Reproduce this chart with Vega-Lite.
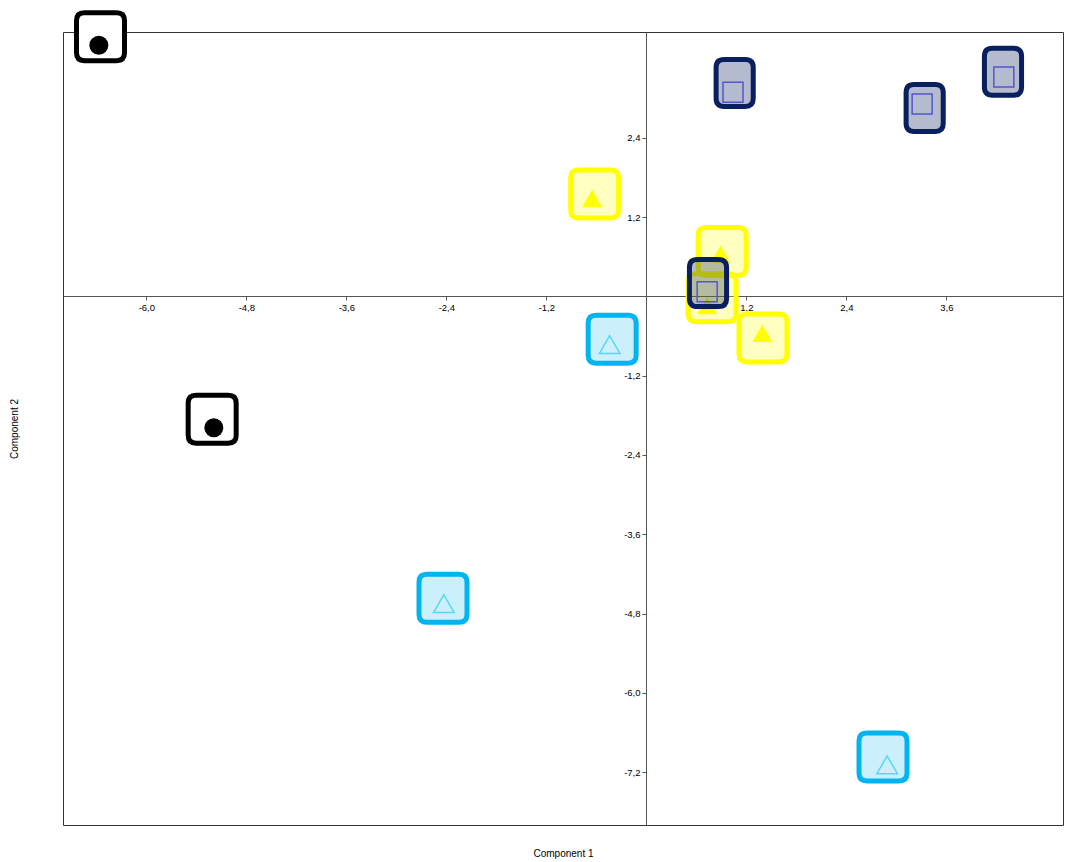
{
  "$schema": "https://vega.github.io/schema/vega-lite/v6.json",
  "width": 1000,
  "height": 793,
  "autosize": {"type": "none"},
  "padding": {"left": 63, "top": 32, "right": 3, "bottom": 37},
  "background": "white",
  "config": {
    "view": {"stroke": "#333333", "strokeWidth": 1},
    "font": "Liberation Sans",
    "axis": {"labelFont": "Liberation Sans", "titleFont": "Liberation Sans", "grid": false}
  },
  "data": {
    "values": [
      {"group": "black", "x": -6.57, "y": 3.80, "boxX": -6.55, "boxY": 3.93},
      {"group": "black", "x": -5.19, "y": -1.99, "boxX": -5.21, "boxY": -1.86},
      {"group": "cyan", "x": -0.44, "y": -0.73, "boxX": -0.41, "boxY": -0.65},
      {"group": "cyan", "x": -2.43, "y": -4.65, "boxX": -2.44, "boxY": -4.57},
      {"group": "cyan", "x": 2.89, "y": -7.09, "boxX": 2.84, "boxY": -6.97},
      {"group": "yellow", "x": -0.65, "y": 1.48, "boxX": -0.62, "boxY": 1.55},
      {"group": "yellow", "x": 0.89, "y": 0.64, "boxX": 0.91, "boxY": 0.68},
      {"group": "yellow", "x": 0.73, "y": -0.14, "boxX": 0.79, "boxY": -0.02},
      {"group": "yellow", "x": 1.39, "y": -0.56, "boxX": 1.40, "boxY": -0.63},
      {"group": "navy", "x": 1.04, "y": 3.09, "boxX": 1.06, "boxY": 3.23},
      {"group": "navy", "x": 3.31, "y": 2.91, "boxX": 3.34, "boxY": 2.85},
      {"group": "navy", "x": 4.29, "y": 3.32, "boxX": 4.28, "boxY": 3.40},
      {"group": "navy", "x": 0.73, "y": 0.07, "boxX": 0.74, "boxY": 0.20}
    ]
  },
  "resolve": {"axis": {"x": "independent", "y": "independent"}},
  "layer": [
    {
      "transform": [{"filter": "datum.group === 'black'"}],
      "mark": {"type": "point", "filled": true, "opacity": 1, "shape": "M-0.67,-1L0.67,-1Q1,-1,1,-0.67L1,0.67Q1,1,0.67,1L-0.67,1Q-1,1,-1,0.67L-1,-0.67Q-1,-1,-0.67,-1Z", "size": 2304, "fill": "#ffffff", "stroke": "#000000", "strokeWidth": 5},
      "encoding": {
        "x": {"field": "boxX", "type": "quantitative", "scale": {"domain": [-7, 5], "nice": false, "zero": false},
          "axis": {"orient": "bottom", "offset": -529, "values": [-6, -4.8, -3.6, -2.4, -1.2, 1.2, 2.4, 3.6], "labelExpr": "replace(replace(format(datum.value, '.1f'), '.', ','), '\u2212', '-')", "title": null, "domainColor": "#555555", "tickColor": "#555555", "tickSize": 4, "labelFontSize": 9.5, "labelColor": "#000000", "labelPadding": 2, "labelFlush": false}},
        "y": {"field": "boxY", "type": "quantitative", "scale": {"domain": [-8, 4], "nice": false, "zero": false},
          "axis": {"orient": "left", "offset": -583, "values": [2.4, 1.2, -1.2, -2.4, -3.6, -4.8, -6, -7.2], "labelExpr": "replace(replace(format(datum.value, '.1f'), '.', ','), '\u2212', '-')", "title": null, "domainColor": "#555555", "tickColor": "#555555", "tickSize": 4, "labelFontSize": 9.5, "labelColor": "#000000", "labelPadding": 2, "labelFlush": false}}
      }
    },
    {
      "transform": [{"filter": "datum.group === 'black'"}],
      "mark": {"type": "point", "filled": true, "opacity": 1, "shape": "circle", "size": 361, "fill": "#000000", "strokeWidth": 0},
      "encoding": {
        "x": {"field": "x", "type": "quantitative", "axis": {"orient": "bottom", "title": "Component 1", "domain": false, "ticks": false, "labels": false, "titlePadding": 23, "titleFontSize": 10, "titleFontWeight": "normal", "titleColor": "#000000"}},
        "y": {"field": "y", "type": "quantitative", "axis": {"orient": "left", "title": "Component 2", "domain": false, "ticks": false, "labels": false, "titlePadding": 44, "titleFontSize": 10, "titleFontWeight": "normal", "titleColor": "#000000"}}
      }
    },
    {
      "transform": [{"filter": "datum.group === 'cyan'"}],
      "mark": {"type": "point", "filled": true, "opacity": 1, "shape": "M-0.67,-1L0.67,-1Q1,-1,1,-0.67L1,0.67Q1,1,0.67,1L-0.67,1Q-1,1,-1,0.67L-1,-0.67Q-1,-1,-0.67,-1Z", "size": 2304, "fill": "rgba(0,176,240,0.2)", "stroke": "#00b4f0", "strokeWidth": 5},
      "encoding": {
        "x": {"field": "boxX", "type": "quantitative", "axis": null},
        "y": {"field": "boxY", "type": "quantitative", "axis": null}
      }
    },
    {
      "transform": [{"filter": "datum.group === 'cyan'"}],
      "mark": {"type": "point", "filled": false, "opacity": 1, "shape": "triangle-up", "size": 420, "fill": "transparent", "stroke": "#55d8f2", "strokeWidth": 1.5},
      "encoding": {
        "x": {"field": "x", "type": "quantitative", "axis": null},
        "y": {"field": "y", "type": "quantitative", "axis": null}
      }
    },
    {
      "transform": [{"filter": "datum.group === 'yellow'"}],
      "mark": {"type": "point", "filled": true, "opacity": 1, "shape": "M-0.67,-1L0.67,-1Q1,-1,1,-0.67L1,0.67Q1,1,0.67,1L-0.67,1Q-1,1,-1,0.67L-1,-0.67Q-1,-1,-0.67,-1Z", "size": 2304, "fill": "rgba(255,255,0,0.25)", "stroke": "#ffff00", "strokeWidth": 5},
      "encoding": {
        "x": {"field": "boxX", "type": "quantitative", "axis": null},
        "y": {"field": "boxY", "type": "quantitative", "axis": null}
      }
    },
    {
      "transform": [{"filter": "datum.group === 'yellow'"}],
      "mark": {"type": "point", "filled": true, "opacity": 1, "shape": "triangle-up", "size": 400, "fill": "#ffff00", "strokeWidth": 0},
      "encoding": {
        "x": {"field": "x", "type": "quantitative", "axis": null},
        "y": {"field": "y", "type": "quantitative", "axis": null}
      }
    },
    {
      "transform": [{"filter": "datum.group === 'navy'"}],
      "mark": {"type": "point", "filled": true, "opacity": 1, "shape": "M-0.45,-1L0.45,-1Q0.79,-1,0.79,-0.66L0.79,0.66Q0.79,1,0.45,1L-0.45,1Q-0.79,1,-0.79,0.66L-0.79,-0.66Q-0.79,-1,-0.45,-1Z", "size": 2209, "fill": "rgba(10,31,94,0.3)", "stroke": "#0a1f5e", "strokeWidth": 5},
      "encoding": {
        "x": {"field": "boxX", "type": "quantitative", "axis": null},
        "y": {"field": "boxY", "type": "quantitative", "axis": null}
      }
    },
    {
      "transform": [{"filter": "datum.group === 'navy'"}],
      "mark": {"type": "point", "filled": false, "opacity": 1, "shape": "square", "size": 400, "fill": "transparent", "stroke": "#5555cc", "strokeWidth": 1.5},
      "encoding": {
        "x": {"field": "x", "type": "quantitative", "axis": null},
        "y": {"field": "y", "type": "quantitative", "axis": null}
      }
    }
  ]
}
